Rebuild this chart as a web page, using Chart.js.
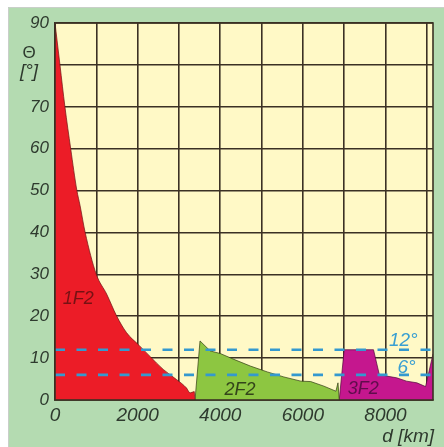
<!DOCTYPE html>
<html>
<head>
<meta charset="utf-8">
<script src="https://cdn.jsdelivr.net/npm/chart.js@4.4.1/dist/chart.umd.min.js"></script>
<style>
  body { margin: 0; background: #ffffff; }
  #wrap { width: 444px; height: 447px; position: relative; }
</style>
</head>
<body>
<div id="wrap"><canvas id="hops"></canvas></div>
<script>
// distance d [km] and elevation angle Θ [°] for each hop mode
const d_1F2 = [0, 120, 240, 380, 530, 605, 730, 1000, 1250, 1490, 1730, 2030, 2300, 2620, 2940, 3180, 3270, 3370, 3390];
const t_1F2 = [90, 80, 70, 60, 50, 46.5, 40, 30, 25.3, 20.1, 16.1, 13.1, 10.4, 7.3, 4.9, 2.9, 1.7, 2.0, 0];

const d_2F2 = [3390, 3510, 3760, 4000, 4330, 4730, 5140, 5540, 5950, 6190, 6510, 6800, 6850, 6880];
const t_2F2 = [0, 14.1, 11.7, 11.1, 9.7, 8.1, 6.7, 5.5, 4.5, 4.4, 3.3, 2.1, 4.1, 0];

const d_3F2 = [6880, 7000, 7710, 7850, 8030, 8270, 8510, 8760, 8970, 9150];
const t_3F2 = [0, 12, 12, 6.1, 5.7, 5.3, 4.5, 4.1, 3.2, 11];

// reference angles (dashed)
const limits = [12, 6];
const limitLabels = ['12°', '6°'];

// grid every 1000 km, labels every 2000 km
const xGrid = [0, 1000, 2000, 3000, 4000, 5000, 6000, 7000, 8000, 9000];
const xLabels = ['0', '', '2000', '', '4000', '', '6000', '', '8000', ''];
const xMax = 9150;
const yMax = 90;

function pts(xs, ys) {
    return xs.map((x, i) => ({x: x, y: ys[i]}));
}

const gridCol = '#3b3124';
const labelCol = '#2e3a2e';
const narrow = '"Liberation Sans Narrow", "Liberation Sans", Arial, sans-serif';

// background panel, plot area, frame and free texts
const decor = {
    id: 'decor',
    beforeDraw(chart) {
        const ctx = chart.ctx;
        const a = chart.chartArea;
        ctx.save();
        ctx.fillStyle = '#b4dbb1';
        ctx.fillRect(8, 7, chart.width - 8, chart.height - 7);
        ctx.strokeStyle = '#c9cfc9';
        ctx.lineWidth = 1;
        ctx.beginPath();
        ctx.moveTo(8.5, chart.height);
        ctx.lineTo(8.5, 7.5);
        ctx.lineTo(chart.width, 7.5);
        ctx.stroke();
        ctx.fillStyle = '#fff9c6';
        ctx.fillRect(a.left, a.top, a.right - a.left, a.bottom - a.top);
        ctx.restore();
    },
    afterDraw(chart) {
        const ctx = chart.ctx;
        const a = chart.chartArea;
        const xs = chart.scales.x, ys = chart.scales.y;
        ctx.save();
        ctx.strokeStyle = gridCol;
        ctx.lineWidth = 1.6;
        ctx.strokeRect(a.left, a.top, a.right - a.left, a.bottom - a.top);

        // axis titles
        ctx.fillStyle = labelCol;
        ctx.textAlign = 'center';
        ctx.textBaseline = 'middle';
        ctx.font = '17px "Liberation Sans", sans-serif';
        ctx.fillText('Θ', 29, 53);
        ctx.font = 'italic 19px ' + narrow;
        ctx.fillText('[°]', 29, 72);
        ctx.textAlign = 'right';
        ctx.fillText('d [km]', 434, 437);

        // dashed line labels
        ctx.fillStyle = '#3a9fd2';
        ctx.font = 'italic 19px ' + narrow;
        ctx.fillText(limitLabels[0], xs.getPixelForValue(8780), ys.getPixelForValue(14.2));
        ctx.fillText(limitLabels[1], xs.getPixelForValue(8730), ys.getPixelForValue(7.8));

        // hop mode names
        ctx.textAlign = 'center';
        ctx.font = 'italic 18px ' + narrow;
        ctx.fillStyle = 'rgba(90,15,15,0.8)';
        ctx.fillText('1F2', xs.getPixelForValue(560), ys.getPixelForValue(24));
        ctx.fillStyle = 'rgba(35,45,20,0.85)';
        ctx.fillText('2F2', xs.getPixelForValue(4480), ys.getPixelForValue(2.3));
        ctx.fillStyle = 'rgba(70,10,60,0.8)';
        ctx.fillText('3F2', xs.getPixelForValue(7460), ys.getPixelForValue(2.6));
        ctx.restore();
    }
};

const dashes = limits.map(v => ({
    data: [{x: 0, y: v}, {x: xMax, y: v}],
    borderColor: '#3499cf',
    borderWidth: 2.6,
    borderDash: [10, 11.5],
    pointRadius: 0,
    fill: false,
    order: 0
}));

new Chart(document.getElementById('hops'), {
    type: 'line',
    data: {
        datasets: [
            {
                label: '1F2',
                data: pts(d_1F2, t_1F2),
                backgroundColor: '#ec1c27',
                borderColor: 'rgba(110,20,20,0.7)',
                borderWidth: 1,
                fill: 'origin',
                cubicInterpolationMode: 'monotone',
                pointRadius: 0,
                order: 1
            },
            {
                label: '2F2',
                data: pts(d_2F2, t_2F2),
                backgroundColor: '#8dc641',
                borderColor: 'rgba(50,60,20,0.7)',
                borderWidth: 1,
                fill: 'origin',
                pointRadius: 0,
                order: 1
            },
            {
                label: '3F2',
                data: pts(d_3F2, t_3F2),
                backgroundColor: '#c5178e',
                borderColor: 'rgba(80,10,60,0.7)',
                borderWidth: 1,
                fill: 'origin',
                pointRadius: 0,
                order: 1
            },
            ...dashes
        ]
    },
    plugins: [decor],
    options: {
        responsive: true,
        maintainAspectRatio: false,
        animation: false,
        layout: { padding: { left: 8, top: 23, right: 11, bottom: 0 } },
        plugins: { legend: { display: false }, tooltip: { enabled: false } },
        scales: {
            x: {
                type: 'linear',
                min: 0,
                max: xMax,
                z: 1,
                afterBuildTicks(scale) {
                    scale.ticks = xGrid.map(v => ({value: v}));
                },
                afterFit(scale) { scale.height = 47; },
                grid: { color: gridCol, lineWidth: 1.6, drawTicks: false },
                border: { color: gridCol, width: 1.6 },
                ticks: {
                    autoSkip: false,
                    maxRotation: 0,
                    padding: 4,
                    color: labelCol,
                    font: { family: narrow, size: 19, style: 'italic' },
                    callback: (v, i) => xLabels[i]
                }
            },
            y: {
                min: 0,
                max: yMax,
                z: 1,
                afterFit(scale) { scale.width = 47; },
                grid: { color: gridCol, lineWidth: 1.6, drawTicks: false },
                border: { color: gridCol, width: 1.6 },
                ticks: {
                    stepSize: 10,
                    padding: 6,
                    color: labelCol,
                    font: { family: '"Liberation Sans", Arial, sans-serif', size: 17, style: 'italic' },
                    callback: v => (v === 80 ? '' : String(v))
                }
            }
        }
    }
});
</script>
</body>
</html>
